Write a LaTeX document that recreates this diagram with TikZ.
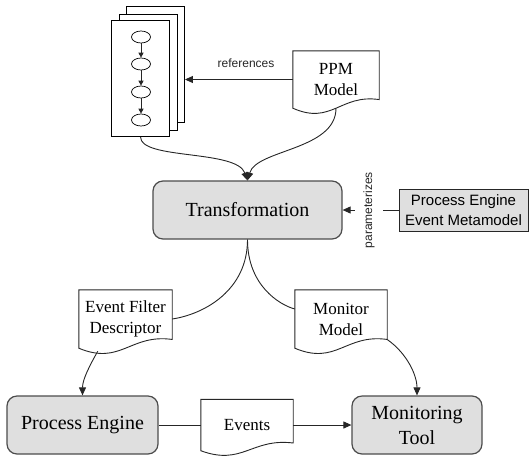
\documentclass[tikz,border=0pt]{standalone}
\usepackage{fontspec}
\setmainfont{Liberation Serif}
\newfontfamily\arialf{Liberation Sans}
\usetikzlibrary{arrows.meta,calc,shapes.geometric}
\newcommand{\drawdocument}[1]{%
  \draw[docline] let \p1=(#1.north west), \p2=(#1.south east),
    \n1={\x2-\x1}, \n2={\y1-\y2} in
    (\x1,\y1) -- (\x2,\y1) -- (\x2,{\y2+0.15*\n2})
    .. controls ({\x1+0.55*\n1},{\y2+0.25*\n2}) and ({\x1+0.45*\n1},{\y2-0.3*\n2}) ..
    (\x1,\y2) -- cycle;}
\begin{document}
\begin{tikzpicture}[x=1pt,y=-1pt,
  line/.style={draw=black!85, line width=0.9pt},
  tip/.style={-{Triangle[length=8pt,width=7pt]}},
  smalltip/.style={-{Triangle[length=5pt,width=5pt]}},
  docline/.style={draw=black!85, line width=0.9pt},
  procbox/.style={draw=black!70, line width=1.2pt, fill=gray!25, rounded corners=10pt,
    minimum height=58pt, font=\fontsize{20}{25}\selectfont, align=center, inner sep=0pt},
  docnode/.style={font=\fontsize{17}{21}\selectfont, align=center, inner sep=0pt},
  metabox/.style={draw=black!85, line width=0.9pt, fill=gray!25, minimum width=129pt,
    minimum height=42pt, font=\arialf\fontsize{15}{20}\selectfont, align=center, inner sep=0pt},
  page/.style={draw=black, line width=0.9pt, fill=white, minimum width=58pt,
    minimum height=116pt, inner sep=0pt},
  state/.style={ellipse, draw=black, line width=0.7pt, fill=white, minimum width=19pt,
    minimum height=12pt, inner sep=0pt},
  smalllabel/.style={font=\arialf\fontsize{12}{14}\selectfont, text=black!85}
]
\useasboundingbox (0,0) rectangle (529,461);
% stacked pages
\node[page] (back) at (155.5,64) {};
\node[page] (mid) at (148.5,72) {};
\node[page] (front) at (140.5,78.5) {};
\node[state] (s1) at (141,37) {};
\node[state] (s2) at (141,64) {};
\node[state] (s3) at (141,92) {};
\node[state] (s4) at (141,120) {};
\foreach \a/\b in {s1/s2,s2/s3,s3/s4} \draw[line,smalltip] (\a) -- (\b);
% PPM model
\node[docnode, minimum width=86pt, minimum height=57pt] (ppm) at (336,79.5) {PPM\\Model};
\drawdocument{ppm}
\draw[line,tip] (ppm.west) -- (ppm.west -| back.east);
\node[smalllabel] (reflabel) at (246,63) {references};
% transformation
\node[procbox, minimum width=189pt] (trans) at (247.5,210) {Transformation};
\draw[line,tip] (front.south) .. controls +(0,23) and +(-11,-31) .. (trans.north);
\draw[line,tip] (ppm.south) .. controls +(0,42) and +(9,-31) .. (trans.north);
% metamodel
\node[metabox] (meta) at (463.5,210) {Process Engine\\Event Metamodel};
\node[smalllabel, rotate=90, inner sep=0pt, minimum height=28pt] (param) at (369,210) {parameterizes};
\draw[line] (meta.west) -- (param.south);
\draw[line,tip] (param.north) -- (trans.east);
% documents
\node[docnode, minimum width=93pt, minimum height=58pt] (efd) at (125.5,319) {Event Filter\\Descriptor};
\drawdocument{efd}
\node[docnode, minimum width=92pt, minimum height=58pt] (mm) at (341,319) {Monitor\\Model};
\drawdocument{mm}
\node[docnode, minimum width=92pt, minimum height=51pt] (ev) at (247,425) {Events};
\drawdocument{ev}
% engine and tool
\node[procbox, minimum width=151pt] (pe) at (82.5,425) {Process Engine};
\node[procbox, minimum width=130pt] (mt) at (417,425) {Monitoring\\Tool};
% connectors
\draw[line] (trans.south) .. controls +(0,50) and +(33,-5) .. (efd.east);
\draw[line] (trans.south) .. controls +(0,46) and +(-15,-4) .. ([yshift=10pt]mm.west);
\draw[line,tip] ([xshift=19pt,yshift=-3pt]efd.south west) .. controls +(-8,14) and +(0,-16) .. (pe.north);
\draw[line,tip] ([yshift=8.7pt]mm.south east) .. controls +(20,14) and +(0,-20) .. (mt.north);
\draw[line] (pe.east) -- (ev.west);
\draw[line,tip] (ev.east) -- (mt.west);
\end{tikzpicture}
\end{document}
